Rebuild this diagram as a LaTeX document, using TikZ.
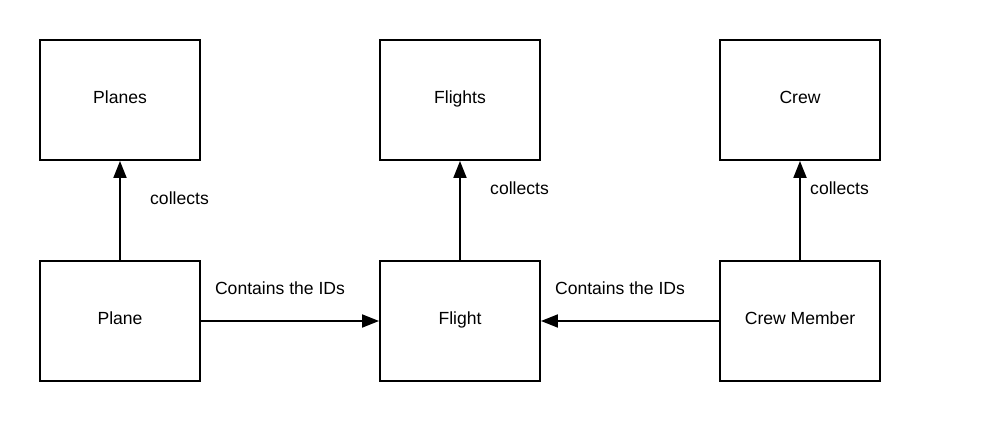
\documentclass[tikz,border=0pt]{standalone}
\usepackage{fontspec}
\setmainfont{Liberation Sans}
\usetikzlibrary{arrows.meta,positioning}

\begin{document}
\begin{tikzpicture}[
    x=0.02cm, y=-0.02cm,
    box/.style={draw, line width=1.1pt, minimum width=3.2cm, minimum height=2.4cm, align=center, text height=1.5ex, text depth=0.8ex, font=\fontsize{10}{12}\selectfont},
    arrow/.style={-{Triangle[length=0.34cm, width=0.26cm]}, line width=1.1pt},
    lbl/.style={font=\fontsize{10}{12}\selectfont}
]
    \useasboundingbox (0,0) rectangle (1000,421);

    % collections
    \node[box] (planes) at (120,100) {Planes};
    \node[box] (flights) at (460,100) {Flights};
    \node[box] (crew) at (800,100) {Crew};

    % items
    \node[box] (plane) at (120,321) {Plane};
    \node[box] (flight) at (460,321) {Flight};
    \node[box] (member) at (800,321) {Crew Member};

    % Arrows
    \draw[arrow] (plane) -- (planes);
    \draw[arrow] (flight) -- (flights);
    \draw[arrow] (member) -- (crew);
    \draw[arrow] (plane) -- (flight);
    \draw[arrow] (member) -- (flight);

    % Labels
    \node[lbl, anchor=west] (lplanes) at (144,198) {collects};
    \node[lbl, anchor=west] (lflights) at (484,188) {collects};
    \node[lbl, anchor=west] (lcrew) at (804,188) {collects};
    \node[lbl] (lplane) at (280,288) {Contains the IDs};
    \node[lbl] (lmember) at (620,288) {Contains the IDs};
\end{tikzpicture}
\end{document}
